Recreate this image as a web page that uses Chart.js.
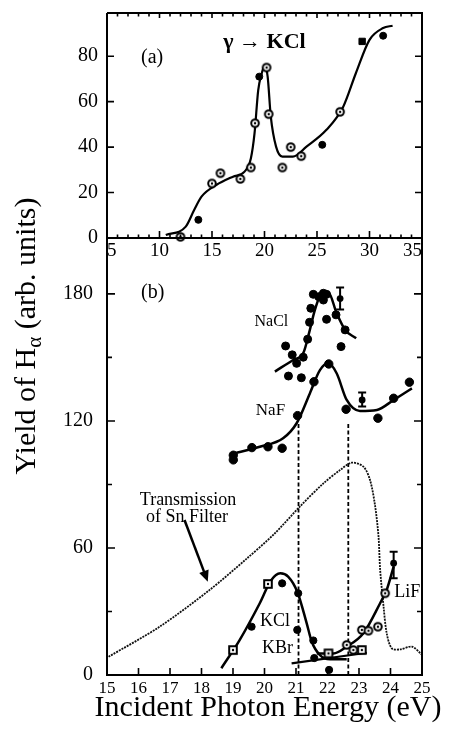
<!DOCTYPE html>
<html><head><meta charset="utf-8">
<script src="https://cdn.jsdelivr.net/npm/chart.js@4/dist/chart.umd.min.js"></script>
<style>
html,body{margin:0;padding:0;background:#fff;}
#wrap{position:relative;width:449px;height:729px;overflow:hidden;}
canvas{position:absolute;left:0;}
#cb{top:0;}
#ca{top:-20px;}
</style></head><body>
<div id="wrap"><canvas id="cb" width="449" height="729"></canvas><canvas id="ca" width="449" height="285"></canvas></div>
<script>
// ---------- Panel (a): gamma -> KCl ----------
const aOpenX   = [12.0, 15.0, 15.8, 17.7, 18.7, 19.1, 20.2, 20.4, 21.7, 22.5, 23.5, 27.2];
const aOpenY   = [0.5, 24, 28.5, 26, 31, 50.5, 75, 54.5, 31, 40, 36, 55.5];
const aFilledX = [13.7, 19.5, 25.5, 31.3];
const aFilledY = [8, 71, 41, 89];
const aSquareX = [29.3];
const aSquareY = [86.5];
const aCurveX  = [10.6, 12.5, 13.3, 14.0, 15.4, 17.0, 18.1, 18.7, 19.05, 19.4, 19.7, 20.0, 20.3, 20.6, 21.1, 21.7, 22.7, 24.0, 25.9, 27.5, 28.7, 30.0, 31.3, 32.2];
const aCurveY  = [1.3, 5, 12.3, 18.2, 23.3, 27, 29.2, 35, 46, 65, 71.8, 75.5, 71, 53.4, 40.2, 35.8, 35.8, 40.2, 47.6, 57.8, 72.5, 87.2, 92.4, 93.4];
const xTickLabelsA = [5, 10, 15, 20, 25, 30, 35];
const yTickLabelsA = [0, 20, 40, 60, 80];

// ---------- Panel (b) ----------
const naclX = [20.67, 20.88, 21.02, 21.23, 20.76, 21.17, 21.37, 21.43, 21.47, 21.55, 21.72, 21.87, 21.97, 21.87, 21.97, 22.27, 22.43, 22.56];
const naclY = [155.4, 151.2, 147.2, 150.1, 141.2, 140.4, 158.6, 166.6, 173.2, 179.8, 178.7, 180.3, 179.8, 177.1, 168.0, 170.1, 155.1, 163];
const naclCurveX = [20.33, 20.91, 21.23, 21.44, 21.6, 21.82, 22.03, 22.29, 22.56, 22.91];
const naclCurveY = [143.3, 148.8, 152, 163, 172.4, 180.3, 180.6, 170.9, 163, 159];
const naclErr = [22.4, 172.6, 183.0, 177.8];   // x, low, high, centre

const nafX = [19.01, 19.01, 19.6, 20.11, 20.56, 21.05, 21.57, 22.04, 22.59, 23.6, 24.1, 24.6];
const nafY = [101.6, 103.8, 107.4, 107.8, 107.1, 122.5, 138.5, 146.9, 125.5, 121.3, 130.7, 138.3];
const nafCurveX = [18.95, 19.85, 20.59, 21.02, 21.44, 21.76, 22.03, 22.29, 22.61, 23.03, 23.57, 24.1, 24.68];
const nafCurveY = [104.3, 107.8, 111.8, 118.9, 133, 144, 147.2, 142.5, 129.9, 124.7, 125.2, 129.9, 135.4];
const nafErr = [23.1, 126.8, 133.4, 129.9];

const snX = [15.05, 16.67, 18.26, 19.4, 20.3, 21.12, 21.87, 22.4, 22.77, 23.14, 23.35, 23.51, 23.62, 23.67, 23.78, 23.88, 24.04, 24.31, 24.68, 24.95, 25.0];
const snY = [8.6, 22.8, 40.2, 54.5, 66.5, 79.5, 90.5, 96.8, 100.3, 98.4, 92.1, 80, 65.3, 50, 32.3, 19.7, 12.6, 12.1, 13.4, 10.3, 9.5];

const kclSqX = [19.0, 20.11];
const kclSqY = [11.8, 43.0];
const kclDotX = [19.59, 20.56, 21.07, 21.04, 21.55];
const kclDotY = [22.8, 43.3, 38.6, 21.3, 16.3];
const kclCurveX = [18.63, 19.21, 19.85, 20.2, 20.5, 20.75, 21.05, 21.34, 21.5, 21.76, 22.08, 22.61];
const kclCurveY = [3.2, 16.5, 33.9, 44.5, 48, 46.5, 39, 24.4, 15.7, 9.4, 7.4, 7.4];

const kbrSqX = [22.03, 23.09];
const kbrSqY = [10.2, 11.8];
const kbrDotX = [21.58, 22.05];
const kbrDotY = [8.0, 2.4];
const kbrLineX = [20.86, 23.25];
const kbrLineY = [5.5, 10.5];

const lifX = [22.61, 22.82, 23.09, 23.3, 23.6, 23.83];
const lifY = [14.2, 11.8, 21.3, 20.9, 22.8, 38.6];
const lifCurveX = [21.66, 22.19, 22.61, 23.14, 23.67, 23.88, 24.1];
const lifCurveY = [10.2, 10.2, 13.4, 19.7, 33.9, 40.2, 51.2];
const lifErr = [24.1, 45.7, 58.2, 52.8];

const dashLeftX = [21.08, 21.08];
const dashLeftY = [0, 118.9];
const dashRightX = [22.66, 22.66];
const dashRightY = [0, 119.7];
const arrowX = [17.46, 18.2];
const arrowY = [73.2, 44.1];

const xTickLabelsB = [15, 16, 17, 18, 19, 20, 21, 22, 23, 24, 25];
const yTickLabelsB = [0, 60, 120, 180];

// ---------- helpers ----------
const pts = (xs, ys) => xs.map((x, i) => ({x, y: ys[i]}));
const FONT = "'Liberation Serif', 'Times New Roman', serif";

function makeRingDot(r) {
  const c = document.createElement('canvas');
  const s = Math.ceil(r * 2 + 4); c.width = s; c.height = s;
  const g = c.getContext('2d');
  g.fillStyle = '#fff'; g.strokeStyle = '#000'; g.lineWidth = 2;
  g.beginPath(); g.arc(s/2, s/2, r, 0, Math.PI*2); g.fill(); g.stroke();
  g.fillStyle = '#000'; g.beginPath(); g.arc(s/2, s/2, 1.2, 0, Math.PI*2); g.fill();
  return c;
}
function makeSqDot(h) {
  const c = document.createElement('canvas');
  const s = Math.ceil(h * 2 + 4); c.width = s; c.height = s;
  const g = c.getContext('2d');
  g.fillStyle = '#fff'; g.strokeStyle = '#000'; g.lineWidth = 2;
  g.fillRect(s/2-h, s/2-h, 2*h, 2*h); g.strokeRect(s/2-h, s/2-h, 2*h, 2*h);
  g.fillStyle = '#000'; g.beginPath(); g.arc(s/2, s/2, 1.2, 0, Math.PI*2); g.fill();
  return c;
}
const ringDot = makeRingDot(3.8);
const sqDot = makeSqDot(3.8);

function scatterSet(data, style) {
  return Object.assign({data, showLine: false, clip: false, pointRadius: 4, pointHoverRadius: 4,
    pointBackgroundColor: '#000', pointBorderColor: '#000', pointBorderWidth: 1}, style);
}
function lineSet(data, style) {
  return Object.assign({data, showLine: true, pointRadius: 0, pointHoverRadius: 0, borderColor: '#000',
    borderWidth: 2.5, cubicInterpolationMode: 'monotone', fill: false}, style);
}

// frame + inward ticks, error bars, arrows, text labels
const decorPlugin = {
  id: 'decor',
  afterDatasetsDraw(chart, args, o) {
    const {ctx, chartArea: a, scales: {x, y}} = chart;
    ctx.save();
    ctx.strokeStyle = '#000'; ctx.fillStyle = '#000';
    (o.errors || []).forEach(e => {
      const px = x.getPixelForValue(e[0]);
      const lo = y.getPixelForValue(e[1]), hi = y.getPixelForValue(e[2]), c = y.getPixelForValue(e[3]);
      ctx.lineWidth = 2;
      ctx.beginPath();
      ctx.moveTo(px, lo); ctx.lineTo(px, hi);
      ctx.moveTo(px - 4, lo); ctx.lineTo(px + 4, lo);
      ctx.moveTo(px - 4, hi); ctx.lineTo(px + 4, hi);
      ctx.stroke();
      ctx.beginPath(); ctx.arc(px, c, 3.4, 0, Math.PI * 2); ctx.fill();
    });
    (o.arrows || []).forEach(ar => {
      const x0 = x.getPixelForValue(ar.x[0]), y0 = y.getPixelForValue(ar.y[0]);
      const x1 = x.getPixelForValue(ar.x[1]), y1 = y.getPixelForValue(ar.y[1]);
      const ang = Math.atan2(y1 - y0, x1 - x0);
      const hl = 11, hw = 5;
      ctx.lineWidth = 2.5;
      ctx.beginPath(); ctx.moveTo(x0, y0);
      ctx.lineTo(x1 - Math.cos(ang) * hl * 0.8, y1 - Math.sin(ang) * hl * 0.8); ctx.stroke();
      ctx.beginPath();
      ctx.moveTo(x1, y1);
      ctx.lineTo(x1 - Math.cos(ang) * hl + Math.sin(ang) * hw, y1 - Math.sin(ang) * hl - Math.cos(ang) * hw);
      ctx.lineTo(x1 - Math.cos(ang) * hl - Math.sin(ang) * hw, y1 - Math.sin(ang) * hl + Math.cos(ang) * hw);
      ctx.closePath(); ctx.fill();
    });
    (o.labels || []).forEach(l => {
      ctx.font = l.font; ctx.textAlign = 'center'; ctx.textBaseline = 'middle';
      ctx.fillText(l.text, x.getPixelForValue(l.x), y.getPixelForValue(l.y));
    });
    ctx.lineWidth = 2;
    ctx.beginPath();
    ctx.moveTo(a.left, a.top); ctx.lineTo(a.left, a.bottom); ctx.lineTo(a.right, a.bottom); ctx.lineTo(a.right, a.top);
    if (o.topEdge) ctx.lineTo(a.left, a.top);
    ctx.stroke();
    ctx.lineWidth = 1.6;
    ctx.beginPath();
    (o.xMarks || []).forEach(m => {
      const px = x.getPixelForValue(m.v);
      ctx.moveTo(px, a.bottom); ctx.lineTo(px, a.bottom - m.len);
      if (o.topEdge) { ctx.moveTo(px, a.top); ctx.lineTo(px, a.top + m.topLen); }
    });
    (o.yMarks || []).forEach(m => {
      const py = y.getPixelForValue(m.v);
      ctx.moveTo(a.left, py); ctx.lineTo(a.left + m.len, py);
      ctx.moveTo(a.right, py); ctx.lineTo(a.right - m.len, py);
    });
    ctx.stroke();
    (o.titles || []).forEach(t => t(ctx));
    ctx.restore();
  }
};

const xMarksA = [];
for (let v = 5; v <= 35; v++) xMarksA.push({v, len: v % 5 === 0 ? 7 : 3.5, topLen: v % 5 === 0 ? 5 : 3.5});
const yMarksA = [0, 20, 40, 60, 80].map(v => ({v, len: 7}));
const xMarksB = xTickLabelsB.map(v => ({v, len: 7}));
const yMarksB = [0, 30, 60, 90, 120, 150, 180].map(v => ({v, len: v % 60 === 0 ? 8 : 5}));

function yTitle(ctx) {
  ctx.save();
  ctx.translate(35, 336);
  ctx.rotate(-Math.PI / 2);
  ctx.fillStyle = '#000';
  ctx.textBaseline = 'alphabetic';
  const big = '30px ' + FONT, small = '21px ' + FONT;
  const p1 = 'Yield of H', p2 = '\u03B1', p3 = ' (arb. units)';
  ctx.font = big; const w1 = ctx.measureText(p1).width, w3 = ctx.measureText(p3).width;
  ctx.font = small; const w2 = ctx.measureText(p2).width;
  let sx = -(w1 + w2 + w3) / 2;
  ctx.font = big; ctx.textAlign = 'left'; ctx.fillText(p1, sx, 0); sx += w1;
  ctx.font = small; ctx.fillText(p2, sx, 6); sx += w2;
  ctx.font = big; ctx.fillText(p3, sx, 0);
  ctx.restore();
}
function xTitle(ctx) {
  ctx.save();
  ctx.fillStyle = '#000';
  ctx.font = '30px ' + FONT; ctx.textAlign = 'center'; ctx.textBaseline = 'alphabetic';
  ctx.fillText('Incident Photon Energy (eV)', 268, 716);
  ctx.restore();
}

// ---------- chart (a) ----------
new Chart(document.getElementById('ca'), {
  type: 'scatter',
  data: { datasets: [
    scatterSet(pts(aOpenX, aOpenY), {pointStyle: ringDot}),
    scatterSet(pts(aFilledX, aFilledY), {pointStyle: 'circle', pointRadius: 3.5}),
    scatterSet(pts(aSquareX, aSquareY), {pointStyle: 'rect', pointRadius: 4.5}),
    lineSet(pts(aCurveX, aCurveY), {borderWidth: 2.2})
  ]},
  plugins: [decorPlugin],
  options: {
    responsive: false, animation: false, devicePixelRatio: 1,
    layout: { padding: {top: 33, right: 27, left: 0, bottom: 0} },
    plugins: { legend: {display: false}, tooltip: {enabled: false},
      decor: { topEdge: true, xMarks: xMarksA, yMarks: yMarksA,
        labels: [
          {text: '(a)', x: 9.3, y: 79.5, font: '20px ' + FONT},
          {text: '\u03B3 \u2192 KCl', x: 20.0, y: 86.0, font: 'bold 22px ' + FONT}
        ] } },
    scales: {
      x: { type: 'linear', min: 5, max: 35,
        afterBuildTicks: s => { s.ticks = xTickLabelsA.map(v => ({value: v})); },
        afterFit: s => { s.height = 27; },
        grid: {display: false, drawTicks: false}, border: {display: false},
        ticks: { color: '#000', font: {family: FONT, size: 19}, padding: 2, maxRotation: 0, autoSkip: false, align: 'inner' } },
      y: { type: 'linear', min: 0, max: 99,
        afterBuildTicks: s => { s.ticks = yTickLabelsA.map(v => ({value: v})); },
        afterFit: s => { s.width = 107; },
        grid: {display: false, drawTicks: false}, border: {display: false},
        ticks: { color: '#000', font: {family: FONT, size: 20}, padding: 9 } }
    }
  }
});

// ---------- chart (b) ----------
new Chart(document.getElementById('cb'), {
  type: 'scatter',
  data: { datasets: [
    scatterSet(pts(naclX, naclY), {pointStyle: 'circle'}),
    scatterSet(pts(nafX, nafY), {pointStyle: 'circle', pointRadius: 4.2}),
    scatterSet(pts(kclSqX, kclSqY), {pointStyle: sqDot}),
    scatterSet(pts(kclDotX, kclDotY), {pointStyle: 'circle', pointRadius: 3.6}),
    scatterSet(pts(kbrSqX, kbrSqY), {pointStyle: sqDot}),
    scatterSet(pts(kbrDotX, kbrDotY), {pointStyle: 'circle', pointRadius: 3.6}),
    scatterSet(pts(lifX, lifY), {pointStyle: ringDot}),
    lineSet(pts(naclCurveX, naclCurveY)),
    lineSet(pts(nafCurveX, nafCurveY)),
    lineSet(pts(kclCurveX, kclCurveY)),
    lineSet(pts(kbrLineX, kbrLineY), {borderWidth: 2.2}),
    lineSet(pts(lifCurveX, lifCurveY)),
    lineSet(pts(snX, snY), {borderWidth: 1.8, borderColor: '#111', borderDash: [2, 1], cubicInterpolationMode: 'default', tension: 0.3}),
    lineSet(pts(dashLeftX, dashLeftY), {borderWidth: 1.8, borderDash: [4, 2.5], cubicInterpolationMode: 'default'}),
    lineSet(pts(dashRightX, dashRightY), {borderWidth: 1.8, borderDash: [4, 2.5], cubicInterpolationMode: 'default'})
  ]},
  plugins: [decorPlugin],
  options: {
    responsive: false, animation: false, devicePixelRatio: 1,
    layout: { padding: {top: 238, right: 27, left: 0, bottom: 0} },
    plugins: { legend: {display: false}, tooltip: {enabled: false},
      decor: { topEdge: false, xMarks: xMarksB, yMarks: yMarksB,
        errors: [naclErr, nafErr, lifErr],
        arrows: [{x: arrowX, y: arrowY}],
        labels: [
          {text: '(b)', x: 16.45, y: 180.6, font: '20px ' + FONT},
          {text: 'NaCl', x: 20.22, y: 167.0, font: '16px ' + FONT},
          {text: 'NaF', x: 20.19, y: 124.7, font: '17px ' + FONT},
          {text: 'Transmission', x: 17.57, y: 82.5, font: '18px ' + FONT},
          {text: 'of Sn Filter', x: 17.54, y: 74.3, font: '18px ' + FONT},
          {text: 'KCl', x: 20.33, y: 25.2, font: '18px ' + FONT},
          {text: 'KBr', x: 20.41, y: 12.8, font: '18px ' + FONT},
          {text: 'LiF', x: 24.53, y: 39.3, font: '18px ' + FONT}
        ],
        titles: [yTitle, xTitle] } },
    scales: {
      x: { type: 'linear', min: 15, max: 25,
        afterBuildTicks: s => { s.ticks = xTickLabelsB.map(v => ({value: v})); },
        afterFit: s => { s.height = 54; },
        grid: {display: false, drawTicks: false}, border: {display: false},
        ticks: { color: '#000', font: {family: FONT, size: 17}, padding: 3, maxRotation: 0, autoSkip: false } },
      y: { type: 'linear', min: 0, max: 206.4,
        afterBuildTicks: s => { s.ticks = yTickLabelsB.map(v => ({value: v})); },
        afterFit: s => { s.width = 107; },
        grid: {display: false, drawTicks: false}, border: {display: false},
        ticks: { color: '#000', font: {family: FONT, size: 20}, padding: 14 } }
    }
  }
});
</script>
</body></html>
